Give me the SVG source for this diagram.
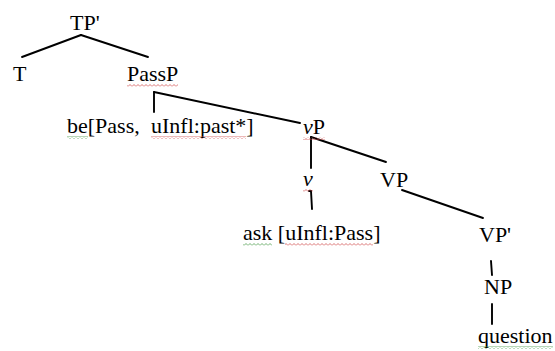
<svg xmlns="http://www.w3.org/2000/svg" width="555" height="351" viewBox="0 0 555 351">
<defs>
<pattern id="wr" width="4" height="3" patternUnits="userSpaceOnUse"><path d="M0 2.5 L2 0.5 L4 2.5" fill="none" stroke="#d05050" stroke-width="0.8"/></pattern>
<pattern id="wg" width="4" height="3" patternUnits="userSpaceOnUse"><path d="M0 2.5 L2 0.5 L4 2.5" fill="none" stroke="#4a9a4a" stroke-width="0.8"/></pattern>
</defs>
<style>
.lbl text{font-family:'Liberation Serif',serif;font-size:22px;fill:#000}
.it{font-style:italic}
.c line{stroke:#000;stroke-width:1.9;stroke-linecap:round}
</style>
<rect width="555" height="351" fill="#fff"/>
<g class="c" id="connectors">
<line x1="81" y1="35" x2="22" y2="57"/>
<line x1="81" y1="35" x2="148" y2="57"/>
<line x1="154" y1="92" x2="154" y2="112"/>
<line x1="154" y1="92" x2="300" y2="123"/>
<line x1="311" y1="137" x2="311" y2="168"/>
<line x1="311" y1="137" x2="386" y2="162"/>
<line x1="309" y1="191" x2="311" y2="191"/>
<line x1="311" y1="191" x2="312" y2="209"/>
<line x1="402" y1="190" x2="483" y2="218"/>
<line x1="491" y1="261" x2="492" y2="275"/>
<line x1="492" y1="304" x2="492" y2="324"/>
</g>
<g class="lbl" font-family="Liberation Serif, serif" font-size="22">
<g id="tp"><text x="70" y="30">TP'</text></g>
<g id="t"><text x="13" y="81">T</text></g>
<g id="passp"><text x="127" y="81">PassP</text><rect x="127" y="84" width="51" height="3" fill="url(#wr)"/></g>
<g id="be"><text x="67" y="133">be[Pass,</text><text x="151" y="133">uInfl:past*]</text>
<rect x="67" y="136" width="21" height="3" fill="url(#wg)"/><rect x="151" y="136" width="95" height="3" fill="url(#wr)"/></g>
<g id="vp-little"><text x="303" y="134"><tspan class="it">v</tspan>P</text><rect x="303" y="137" width="22" height="3" fill="url(#wr)"/></g>
<g id="v"><text x="303" y="186" class="it">v</text><rect x="303" y="189" width="10" height="3" fill="url(#wr)"/></g>
<g id="vp"><text x="380" y="187">VP</text></g>
<g id="ask"><text x="243" y="240">ask [uInfl:Pass]</text>
<rect x="243" y="243" width="29" height="3" fill="url(#wg)"/><rect x="285" y="243" width="88" height="3" fill="url(#wr)"/></g>
<g id="vpbar"><text x="479" y="242">VP'</text></g>
<g id="np"><text x="484" y="294">NP</text></g>
<g id="question"><text x="478" y="343">question</text><rect x="478" y="346" width="75" height="3" fill="url(#wg)"/></g>
</g>
</svg>
